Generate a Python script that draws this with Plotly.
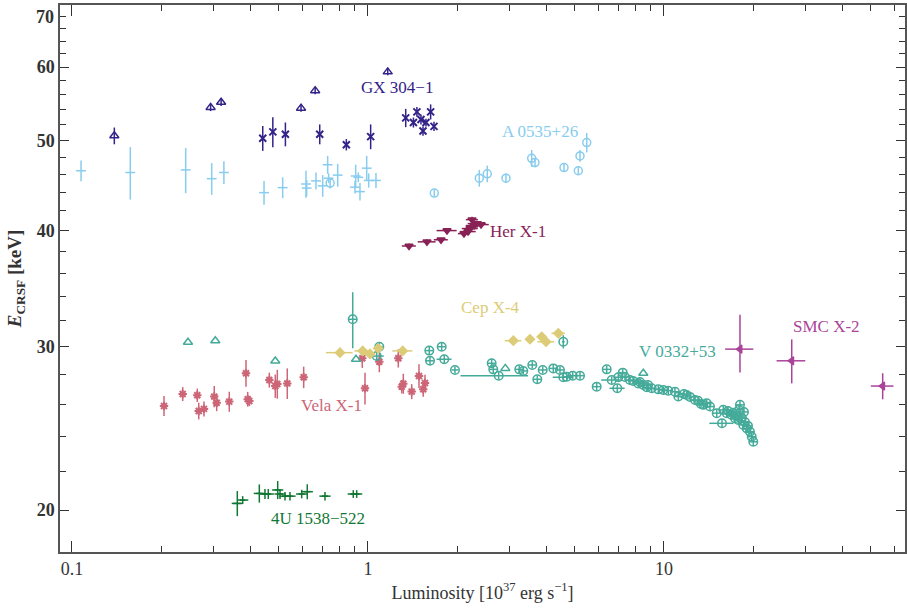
import math
import plotly.graph_objects as go

# ---------------- data (luminosity in 1e37 erg/s, energy in keV) -------------
gx_tri_lum = [0.139, 0.294, 0.319, 0.594, 0.663, 1.166]
gx_tri_e = [50.6, 54.3, 55.0, 54.2, 56.6, 59.3]
gx_tri_err = [1.05, 0.5, 0.5, 0.5, 0.5, 0.5]

gx_x_lum = [0.441, 0.477, 0.526, 0.687, 0.845, 1.021, 1.341, 1.424, 1.463,
            1.510, 1.534, 1.570, 1.628, 1.671]
gx_x_e = [50.3, 51.1, 50.8, 50.8, 49.5, 50.5, 52.9, 52.3, 53.7, 52.7, 51.2,
          52.3, 53.7, 51.8]
gx_x_err = [1.55, 1.9, 1.5, 1.25, 0.7, 1.55, 1.2, 0.65, 0.65, 0.65, 0.6, 0.5,
            1.0, 0.6]

a0535_p_lum = [0.1073, 0.1574, 0.2422, 0.2965, 0.326, 0.4454, 0.5149, 0.6173,
               0.6206, 0.6673, 0.7031, 0.7307, 0.7363, 0.790, 0.9037, 0.9087,
               0.9273, 0.9396, 0.99, 1.0055, 1.064]
a0535_p_e = [46.4, 46.2, 46.5, 45.5, 46.2, 43.95, 44.5, 44.9, 44.45, 45.25,
             44.7, 47.1, 45.55, 45.9, 44.55, 45.8, 45.65, 44.06, 46.7, 45.3,
             45.3]
a0535_p_err = [1.2, 3.0, 2.6, 1.8, 1.3, 1.3, 1.15, 1.5, 0.9, 0.95, 1.2, 1.05,
               0.55, 1.3, 0.7, 1.3, 0.55, 0.95, 1.45, 0.8, 0.85]

a0535_c_lum = [0.745, 1.675, 2.377, 2.529, 2.925, 3.573, 3.666, 4.594, 5.135,
               5.203, 5.482]
a0535_c_e = [45.0, 43.9, 45.55, 46.05, 45.55, 47.86, 47.35, 46.77, 46.4, 48.14,
             49.76]
a0535_c_err = [0.6, 0.35, 0.95, 0.95, 0.55, 1.0, 0.55, 0.45, 0.45, 0.7, 1.2]

her_lum = [1.376, 1.582, 1.765, 1.849, 2.110, 2.177, 2.211, 2.246, 2.281,
           2.335, 2.409]
her_e = [38.5, 38.9, 39.1, 40.0, 39.7, 39.9, 40.2, 41.1, 40.5, 40.7, 40.6]
her_lum_err = [0.075, 0.11, 0.096, 0.144, 0.098, 0.135, 0.138, 0.105, 0.142,
               0.163, 0.15]
her_e_err = [0.25, 0.25, 0.2, 0.25, 0.3, 0.3, 0.3, 0.3, 0.3, 0.3, 0.3]

vela_lum = [0.2046, 0.2366, 0.265, 0.268, 0.2792, 0.3024, 0.3082, 0.3399,
            0.3871, 0.3923, 0.3972, 0.4642, 0.4862, 0.4939, 0.5337, 0.6064,
            0.9566, 0.9770, 1.092, 1.266, 1.300, 1.316, 1.405, 1.487, 1.537,
            1.558]
vela_e = [25.89, 26.67, 26.59, 25.57, 25.70, 26.50, 26.10, 26.17, 28.08, 26.33,
          26.21, 27.61, 27.20, 27.34, 27.38, 27.80, 29.14, 27.05, 28.89, 29.14,
          27.16, 27.36, 26.83, 27.89, 26.99, 27.41]
vela_err = [0.64, 0.46, 0.44, 0.53, 0.48, 0.70, 0.54, 0.65, 0.93, 0.48, 0.33,
            0.51, 0.79, 0.98, 1.04, 0.74, 0.69, 1.07, 0.74, 0.66, 0.45, 0.68,
            0.50, 0.82, 0.50, 0.57]

cep_lum = [0.804, 0.9596, 1.016, 1.083, 1.31, 3.097, 3.526, 3.863, 3.995, 4.395]
cep_e = [29.55, 29.68, 29.46, 29.87, 29.68, 30.44, 30.55, 30.74, 30.36, 31.0]
cep_lum_err = [0.083, 0.06, 0.04, 0.04, 0.102, 0.2, 0.08, 0.08, 0.26, 0.23]
cep_e_err = [0.22, 0.22, 0.22, 0.22, 0.22, 0.22, 0.22, 0.25, 0.22, 0.22]

v0332_tri_lum = [0.2465, 0.3049, 0.4862, 0.911, 2.910, 8.514]
v0332_tri_e = [30.32, 30.44, 28.94, 29.07, 28.42, 28.08]

v0332_lum = [0.888, 1.092, 1.070, 1.611, 1.620, 1.774, 1.810, 1.967, 2.764,
             2.617, 2.650, 3.244, 3.347, 3.590, 3.733, 3.893, 4.227, 4.453,
             4.569, 4.692, 4.916, 5.203, 5.924, 4.569, 6.404, 6.658, 6.954,
             7.253, 7.009, 7.675, 8.190, 8.514, 8.743, 9.088, 9.566, 9.945,
             10.34, 10.89, 11.18, 11.93, 12.73, 13.58, 13.94, 14.30, 15.07,
             15.86, 16.29, 16.93, 17.37, 17.82, 18.06, 18.53, 19.03, 19.52,
             19.79, 20.03, 15.70,
             16.45, 17.11, 17.65, 18.34, 18.77, 19.22, 18.63, 17.92,
             11.68, 12.24, 13.03, 13.34, 7.382, 7.859, 8.297, 8.833]
v0332_e = [32.10, 29.99, 29.30, 29.70, 28.96, 29.99, 29.07, 28.31, 27.91,
           28.78, 28.35, 28.35, 28.24, 28.66, 27.66, 28.31, 28.42, 28.31,
           27.80, 27.84, 27.91, 27.91, 27.16, 30.36, 28.35, 27.61, 27.05,
           28.12, 27.80, 27.61, 27.38, 27.27, 27.12, 27.05, 26.98, 26.93,
           26.89, 26.82, 26.50, 26.60, 26.28, 25.96, 26.06, 25.85, 25.43,
           25.64, 25.43, 25.32, 25.11, 25.00, 25.96, 24.70, 24.49, 24.29,
           23.99, 23.69, 24.80,
           25.57, 25.45, 25.26, 25.13, 24.88, 24.64, 25.51, 25.64,
           26.67, 26.48, 26.22, 26.02, 27.82, 27.55, 27.48, 27.27]
v0332_lum_err = [0.03, 0.03, 0.06, 0.05, 0.05, 0.05, 0.106, 0.05, 0.71, 0.08,
                 0.08, 0.1, 0.1, 0.11, 0.12, 0.12, 0.13, 0.14, 0.36, 0.15,
                 0.15, 0.16, 0.18, 0.05, 0.2, 0.52, 0.41, 0.22, 0.22, 0.24,
                 0.25, 0.26, 0.27, 0.28, 0.3, 0.31, 0.32, 0.34, 0.35, 0.37,
                 0.4, 0.42, 0.43, 0.45, 0.47, 0.49, 0.5, 0.53, 0.54, 0.55,
                 0.56, 0.58, 0.59, 0.6, 0.62, 0.62, 1.47,
                 0.5, 0.53, 0.55, 0.57, 0.58, 0.6, 0.58, 0.56,
                 0.36, 0.38, 0.4, 0.41, 0.23, 0.24, 0.26, 0.27]
v0332_e_err = [2.23, 0.35, 0.3, 0.3, 0.3, 0.3, 0.3, 0.25, 0.25, 0.3, 0.3,
               0.25, 0.25, 0.25, 0.25, 0.25, 0.25, 0.25, 0.25, 0.25, 0.25,
               0.25, 0.25, 0.5, 0.25, 0.25, 0.25, 0.25, 0.25, 0.25, 0.25,
               0.25, 0.25, 0.25, 0.25, 0.25, 0.25, 0.25, 0.25, 0.25, 0.25,
               0.25, 0.25, 0.25, 0.25, 0.25, 0.25, 0.25, 0.25, 0.25, 0.25,
               0.25, 0.25, 0.25, 0.25, 0.25, 0.25,
               0.25, 0.25, 0.25, 0.25, 0.25, 0.25, 0.25, 0.25,
               0.25, 0.25, 0.25, 0.25, 0.25, 0.25, 0.25, 0.25]

smc_lum = [18.06, 27.01, 54.8]
smc_e = [29.81, 28.96, 27.20]
smc_lum_err = [1.97, 3.0, 4.82]
smc_e_err_plus = [2.65, 1.58, 0.88]
smc_e_err_minus = [1.68, 1.58, 0.88]

u1538_lum = [0.3618, 0.3773, 0.4294, 0.4487, 0.4604, 0.4954, 0.5044, 0.5244,
             0.5451, 0.597, 0.6236, 0.7157, 0.8919, 0.9158]
u1538_e = [20.33, 20.50, 20.84, 20.81, 20.81, 21.02, 20.81, 20.70, 20.70,
           20.81, 20.93, 20.70, 20.81, 20.81]
u1538_e_err = [0.63, 0.2, 0.47, 0.26, 0.26, 0.47, 0.26, 0.22, 0.22, 0.22,
               0.39, 0.22, 0.2, 0.2]
u1538_lum_err = [0.011, 0.008, 0.01, 0.01, 0.01, 0.012, 0.012, 0.012, 0.012,
                 0.014, 0.015, 0.017, 0.021, 0.021]

labels = ["GX 304\u22121", "A 0535+26", "Her X-1", "Cep X-4", "Vela X-1",
          "V 0332+53", "SMC X-2", "4U 1538\u2212522"]
label_lum = [1.253, 3.81, 3.213, 2.584, 0.7557, 11.15, 35.27, 0.678]
label_e = [57.0, 51.2, 39.87, 33.02, 25.89, 29.6, 31.5, 19.56]

colors = {
    "gx": "#332288", "a0535": "#88CCEE", "her": "#882255", "cep": "#DDCC77",
    "vela": "#CC6677", "v0332": "#44AA99", "smc": "#AA4499", "u1538": "#117733",
}
label_colors = [colors[k] for k in ["gx", "a0535", "her", "cep", "vela",
                                    "v0332", "smc", "u1538"]]

x_major = [0.1, 1, 10]
x_minor = [m * d for d in (0.1, 1, 10) for m in range(2, 10) if m * d < 70]
y_major = [20, 30, 40, 50, 60, 70]
y_minor = [v for v in range(22, 70, 2) if v % 10 != 0]

# ---------------- figure ----------------
fig = go.Figure()


def add(x, y, color, symbol, size, ex=None, ey=None, ey_minus=None, lw=1.5):
    marker = dict(symbol=symbol, size=size, color=color,
                  line=dict(color=color, width=lw))
    tr = dict(x=x, y=y, mode="markers", marker=marker, showlegend=False,
              hoverinfo="x+y")
    if ex is not None:
        tr["error_x"] = dict(type="data", array=ex, color=color, thickness=1.5,
                             width=0)
    if ey is not None:
        d = dict(type="data", array=ey, color=color, thickness=1.5, width=0)
        if ey_minus is not None:
            d["symmetric"] = False
            d["arrayminus"] = ey_minus
        tr["error_y"] = d
    fig.add_trace(go.Scatter(**tr))


add(a0535_p_lum, a0535_p_e, colors["a0535"], "line-ew-open", 7, ey=a0535_p_err)
add(a0535_c_lum, a0535_c_e, colors["a0535"], "circle-open", 8, ey=a0535_c_err)
add(gx_tri_lum, gx_tri_e, colors["gx"], "triangle-up-open", 8, ey=gx_tri_err)
add(gx_x_lum, gx_x_e, colors["gx"], "x-thin-open", 7, ey=gx_x_err, lw=2)
add(vela_lum, vela_e, colors["vela"], "asterisk-open", 7, ey=vela_err, lw=2)
add(u1538_lum, u1538_e, colors["u1538"], "line-ew-open", 8, ex=u1538_lum_err,
    ey=u1538_e_err)
add(v0332_tri_lum, v0332_tri_e, colors["v0332"], "triangle-up-open", 8)
add(v0332_lum, v0332_e, colors["v0332"], "circle-open", 8.5,
    ex=v0332_lum_err, ey=v0332_e_err)
add(cep_lum, cep_e, colors["cep"], "diamond", 7, ex=cep_lum_err, ey=cep_e_err)
add(her_lum, her_e, colors["her"], "triangle-down", 7, ex=her_lum_err,
    ey=her_e_err)
add(smc_lum, smc_e, colors["smc"], "triangle-left", 7, ex=smc_lum_err,
    ey=smc_e_err_plus, ey_minus=smc_e_err_minus)

for t, lx, ly, c in zip(labels, label_lum, label_e, label_colors):
    fig.add_annotation(x=math.log10(lx), y=math.log10(ly), text=t,
                       showarrow=False, xref="x", yref="y",
                       font=dict(family="Liberation Serif", size=17, color=c))

# top-left "70" label (drawn slightly below the frame edge as in reference)
fig.add_annotation(x=0, y=1, xref="paper", yref="paper", text="<b>70</b>",
                   showarrow=False, xanchor="right", yanchor="top",
                   xshift=-4, yshift=0,
                   font=dict(family="Liberation Serif", size=18, color="#333"))

axis_common = dict(type="log", showgrid=False, zeroline=False, showline=True,
                   linecolor="#555", linewidth=1.5, mirror="ticks",
                   ticks="inside", tickcolor="#333", tickwidth=1.2)

fig.update_xaxes(**axis_common, range=[-1.0405, 1.8142], tickvals=x_major,
                 ticktext=["0.1", "1", "10"], ticklen=11,
                 tickfont=dict(family="Liberation Serif", size=18,
                               color="#333"),
                 minor=dict(tickvals=x_minor, ticks="inside", ticklen=6,
                            tickcolor="#333", tickwidth=1),
                 title=dict(text="Luminosity [10<sup>37</sup> erg s<sup>\u22121</sup>]",
                            font=dict(family="Liberation Serif", size=18,
                                      color="#333"), standoff=8))
fig.update_yaxes(**axis_common, range=[1.2558, 1.8451], tickvals=y_major,
                 ticktext=["<b>20</b>", "<b>30</b>", "<b>40</b>", "<b>50</b>",
                           "<b>60</b>", ""], ticklen=9,
                 tickfont=dict(family="Liberation Serif", size=18,
                               color="#333"),
                 minor=dict(tickvals=y_minor, ticks="inside", ticklen=6,
                            tickcolor="#333", tickwidth=1),
                 title=dict(text="<b><i>E</i></b><sub><b>CRSF</b></sub> <b>[keV]</b>",
                            font=dict(family="Liberation Serif", size=19,
                                      color="#333"), standoff=10))

fig.update_layout(width=907, height=612, plot_bgcolor="white",
                  paper_bgcolor="white",
                  margin=dict(l=60, r=2, t=5, b=60, autoexpand=False))

fig.write_html("out.html")
